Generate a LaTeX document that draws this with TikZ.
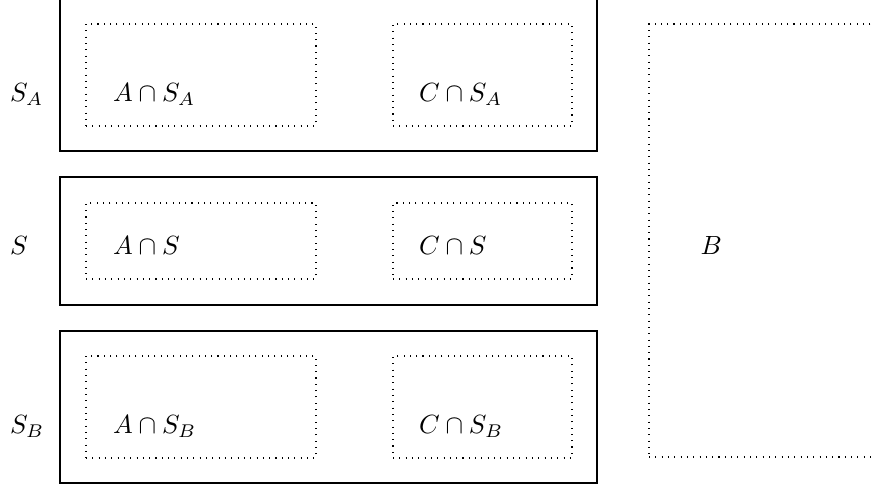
\documentclass[tikz,border=0pt]{standalone}
\usepackage{tikz}

\begin{document}
\begin{tikzpicture}[x=0.38pt, y=-0.38pt,
  slice/.style={rectangle, draw, thick, minimum width=204.06pt},
  part/.style={rectangle, draw, dotted},
  lbl/.style={anchor=base west, inner sep=0pt}]
\useasboundingbox (0,0) rectangle (875,489);
\clip (0,0) rectangle (875,489);

% the three slices
\node[slice, minimum height=57.76pt] (sa) at (328.5,75) {};
\node[slice, minimum height=48.64pt] (s) at (328.5,241) {};
\node[slice, minimum height=57.76pt] (sb) at (328.5,407) {};

% parts inside each slice
\node[part, minimum width=87.4pt, minimum height=38.76pt] (asa) at (201,75) {};
\node[part, minimum width=68.02pt, minimum height=38.76pt] (csa) at (482.5,75) {};
\node[part, minimum width=87.4pt, minimum height=28.88pt] (as) at (201,241) {};
\node[part, minimum width=68.02pt, minimum height=28.88pt] (cs) at (482.5,241) {};
\node[part, minimum width=87.4pt, minimum height=38.76pt] (asb) at (201,407) {};
\node[part, minimum width=68.02pt, minimum height=38.76pt] (csb) at (482.5,407) {};

\node[part, minimum width=95.38pt, minimum height=164.54pt] (b) at (774.5,240.5) {};

% labels
\node[lbl] (lsa) at (9.5,101.7) {$S_A$};
\node[lbl] (ls) at (9.5,254.3) {$S$};
\node[lbl] (lsb) at (9.5,433.3) {$S_B$};
\node[lbl] (tasa) at (112.5,101.7) {$A\cap S_A$};
\node[lbl] (tcsa) at (418.5,101.7) {$C\cap S_A$};
\node[lbl] (tas) at (112.5,254.3) {$A\cap S$};
\node[lbl] (tcs) at (418.5,254.3) {$C\cap S$};
\node[lbl] (tasb) at (112.5,433.3) {$A\cap S_B$};
\node[lbl] (tcsb) at (418.5,433.3) {$C\cap S_B$};
\node[lbl] (tb) at (700,254.3) {$B$};
\end{tikzpicture}
\end{document}
